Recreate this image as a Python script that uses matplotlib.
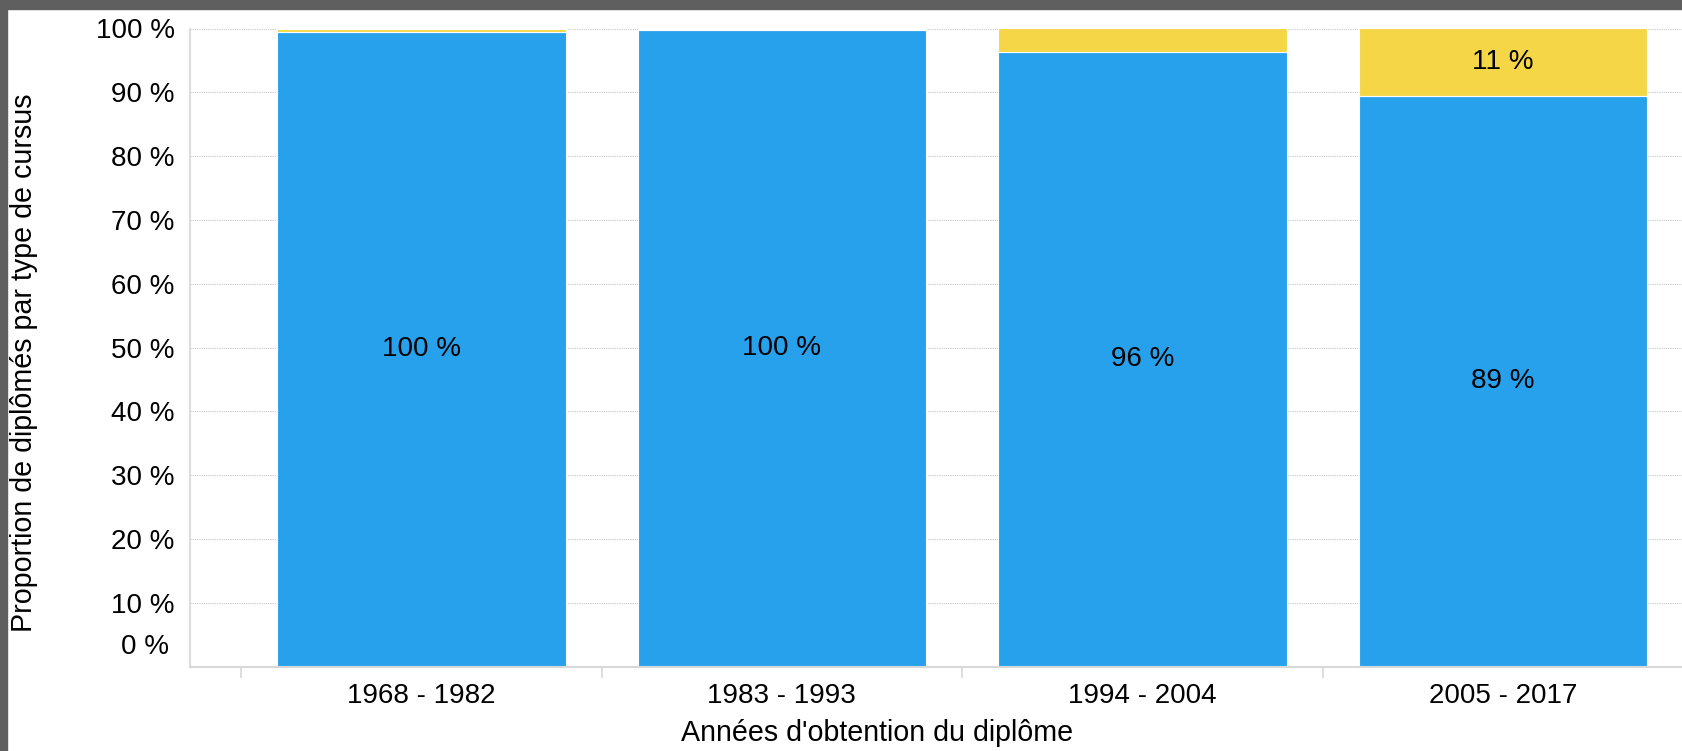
import matplotlib
matplotlib.use("Agg")
import matplotlib.pyplot as plt
import numpy as np

plt.rcParams['font.family'] = ['Liberation Sans', 'DejaVu Sans']

periodes = ['1968 - 1982', '1983 - 1993', '1994 - 2004', '2005 - 2017']
part_bleu = [99.5, 99.7, 96.3, 89.4]
part_jaune = [0.5, 0.3, 3.7, 10.6]
# les etiquettes affichees seulement au dessus de ce seuil
seuil_etiquette = 5

bleu = '#28A1EC'
jaune = '#F4D646'

fig = plt.figure(figsize=(16.83, 7.51), dpi=100)
fig.patch.set_facecolor('white')

# bordure grise de la capture
fig.patches.append(plt.Rectangle((0, 1 - 9 / 751), 1, 9 / 751, transform=fig.transFigure,
                                 color='#5f5f5f', zorder=0))
fig.patches.append(plt.Rectangle((0, 0), 7 / 1683, 1, transform=fig.transFigure,
                                 color='#5f5f5f', zorder=0))

ax = fig.add_axes([190 / 1683, 1 - 666.5 / 751, 1 - 190 / 1683, (666.5 - 28.5) / 751])

x = np.arange(len(periodes))
ax.bar(x, part_bleu, width=0.8, color=bleu, edgecolor='white', linewidth=0.8, zorder=2)
ax.bar(x, part_jaune, width=0.8, bottom=part_bleu, color=jaune, edgecolor='white',
       linewidth=0.8, zorder=2)

for i in range(len(periodes)):
    if part_bleu[i] > seuil_etiquette:
        ax.text(x[i], part_bleu[i] / 2, f"{part_bleu[i]:.0f} %", ha='center', va='center',
                fontsize=20, color='black', zorder=3)
    if part_jaune[i] > seuil_etiquette:
        ax.text(x[i], part_bleu[i] + part_jaune[i] / 2, f"{part_jaune[i]:.0f} %", ha='center',
                va='center', fontsize=20, color='black', zorder=3)

ax.set_xlim(-0.642, 3.467)
ax.set_ylim(0, 100)

# axe y
graduations = list(range(0, 101, 10))
ax.set_yticks(graduations)
ax.set_yticklabels([''] + [f"{g} %" for g in graduations[1:]])
ax.annotate('0 %', xy=(0, 0), xycoords=('axes fraction', 'data'), xytext=(-15, 14),
            textcoords='offset points', ha='right', va='center', fontsize=20)
ax.tick_params(axis='y', length=0, pad=11, labelsize=20)
ax.yaxis.grid(True, linestyle=(0, (1, 1)), color='#c8c8c8', linewidth=0.8, zorder=0)

# axe x : graduations entre les categories
ax.set_xticks(x)
ax.set_xticklabels(periodes)
ax.tick_params(axis='x', length=0, pad=12, labelsize=20)
ax.set_xticks(np.arange(-0.5, len(periodes)), minor=True)
ax.tick_params(axis='x', which='minor', length=8, color='#d8d8d8', width=1.2)

for cote in ['top', 'right']:
    ax.spines[cote].set_visible(False)
ax.spines['left'].set_color('#dcdcdc')
ax.spines['left'].set_linewidth(1.5)
ax.spines['bottom'].set_color('#d8d8d8')
ax.spines['bottom'].set_linewidth(1.5)
ax.set_axisbelow(True)

fig.text(877 / 1683, 1 - 733 / 751, "Années d'obtention du diplôme",
         ha='center', va='center', fontsize=20.6)
fig.text(24 / 1683, 1 - 363 / 751, "Proportion de diplômés par type de cursus",
         rotation=90, ha='center', va='center', fontsize=20.6)

fig.savefig('out.png', dpi=100)
